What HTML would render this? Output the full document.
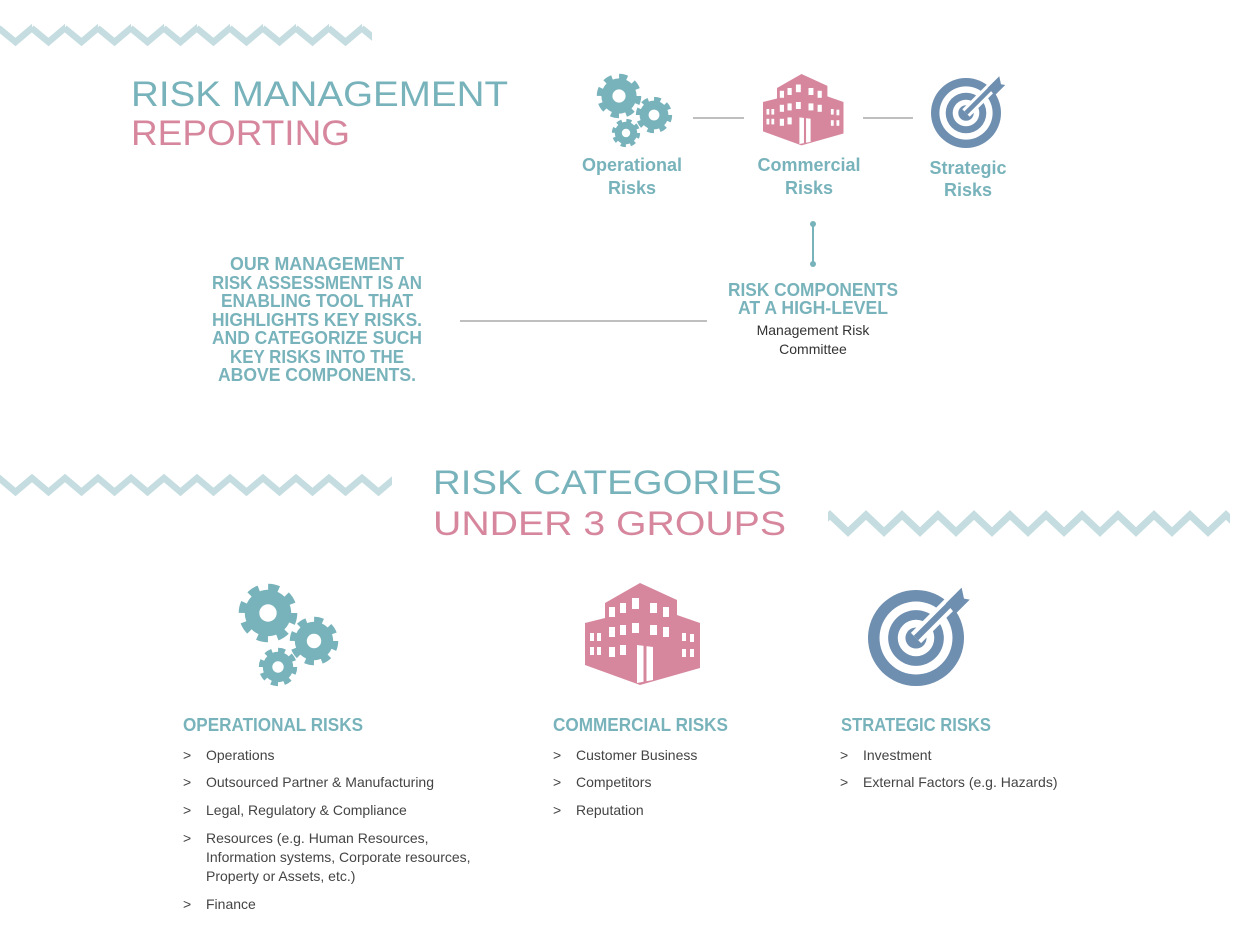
<!DOCTYPE html>
<html><head><meta charset="utf-8"><style>
html,body{margin:0;padding:0;background:#fff;}
svg{display:block;}
.t{font-family:"Liberation Sans",sans-serif;}
</style></head><body>
<svg width="1241" height="928" viewBox="0 0 1241 928" xmlns="http://www.w3.org/2000/svg">
<defs>
<pattern id="zz" x="-1" y="0" width="33" height="928" patternUnits="userSpaceOnUse">
 <polyline points="-0.5,0 16.5,14 33,0 49.5,14" fill="none" stroke="#c5dde0" stroke-width="6.5" transform="translate(0,28)"/>
</pattern>
<pattern id="zz2" x="-1" y="0" width="33" height="928" patternUnits="userSpaceOnUse">
 <polyline points="-16.5,14 0,0 16.5,14 33,0 49.5,14" fill="none" stroke="#c5dde0" stroke-width="6.5" transform="translate(0,478)"/>
</pattern>
<pattern id="zz3" x="830" y="0" width="36" height="928" patternUnits="userSpaceOnUse">
 <polyline points="-18,17 0,0 18,17 36,0 54,17" fill="none" stroke="#c5dde0" stroke-width="7" transform="translate(0,515)"/>
</pattern>
<g id="gear">
 <circle r="0.8" fill="#78b3bb"/>
 <circle r="0.86" fill="none" stroke="#78b3bb" stroke-width="0.3" stroke-dasharray="0.36 0.315"/>
 <circle r="0.3" fill="#fff"/>
</g>
<g id="bld">
 <polygon points="0,40 20,35 20,20 55,0 92,17 92,32 115,40 115,85 55,102 0,82" fill="#d6879e"/>
 <g fill="#fff">
  <rect x="5" y="50" width="4" height="8"/><rect x="12" y="50" width="4" height="8"/>
  <rect x="5" y="64" width="4" height="8"/><rect x="12" y="64" width="4" height="8"/>
  <rect x="24" y="24" width="6" height="10"/><rect x="35" y="20" width="6" height="10"/><rect x="47" y="15" width="7" height="11"/>
  <rect x="65" y="20" width="7" height="10"/><rect x="78" y="24" width="6" height="10"/>
  <rect x="24" y="44" width="6" height="10"/><rect x="35" y="42" width="6" height="10"/><rect x="47" y="40" width="7" height="10"/>
  <rect x="65" y="42" width="7" height="10"/><rect x="78" y="44" width="6" height="10"/>
  <rect x="97" y="50" width="4" height="8"/><rect x="105" y="51" width="4" height="8"/>
  <rect x="24" y="64" width="6" height="10"/><rect x="35" y="62" width="6" height="10"/>
  <rect x="97" y="66" width="4" height="8"/><rect x="105" y="66" width="4" height="8"/>
  <polygon points="52,62 68,64 68,97 52,100"/>
 </g>
 <line x1="60" y1="62" x2="60" y2="99" stroke="#d6879e" stroke-width="3"/>
</g>
<g id="tgt">
 <circle r="1" fill="#6f8fb0"/>
 <circle r="0.76" fill="#fff"/>
 <circle r="0.58" fill="#6f8fb0"/>
 <circle r="0.38" fill="#fff"/>
 <circle r="0.22" fill="#6f8fb0"/>
 <line x1="0" y1="0" x2="0.78" y2="-0.78" stroke="#fff" stroke-width="0.3"/>
 <line x1="0" y1="0" x2="0.85" y2="-0.85" stroke="#6f8fb0" stroke-width="0.13"/>
 <polygon points="0.62,-0.72 0.95,-1.05 1.0,-0.82 1.12,-0.8 0.82,-0.5 0.72,-0.62" fill="#6f8fb0"/>
</g>
</defs>

<rect x="0" y="20" width="372" height="30" fill="url(#zz)"/>
<rect x="0" y="470" width="392" height="30" fill="url(#zz2)"/>
<rect x="828" y="508" width="402" height="32" fill="url(#zz3)"/>

<text class="t" x="131" y="106" font-size="35" fill="#78b3bb" textLength="377" lengthAdjust="spacingAndGlyphs">RISK MANAGEMENT</text>
<text class="t" x="131" y="145" font-size="35" fill="#d6879e" textLength="219" lengthAdjust="spacingAndGlyphs">REPORTING</text>

<!-- top icons -->
<use href="#gear" transform="translate(619,96) scale(22)"/>
<use href="#gear" transform="translate(654,115) scale(18)"/>
<use href="#gear" transform="translate(626,133) scale(14)"/>
<use href="#bld" transform="translate(763,74) scale(0.7)"/>
<use href="#tgt" transform="translate(966,113) scale(35)"/>
<line x1="693" y1="118" x2="744" y2="118" stroke="#aaa" stroke-width="1.5"/>
<line x1="863" y1="118" x2="913" y2="118" stroke="#aaa" stroke-width="1.5"/>

<g class="t" font-weight="bold" font-size="18" fill="#78b3bb" text-anchor="middle">
<text x="632" y="171">Operational</text><text x="632" y="194">Risks</text>
<text x="809" y="171">Commercial</text><text x="809" y="194">Risks</text>
<text x="968" y="174">Strategic</text><text x="968" y="196">Risks</text>
</g>

<line x1="813" y1="224" x2="813" y2="264" stroke="#78b3bb" stroke-width="2"/>
<circle cx="813" cy="224" r="3" fill="#78b3bb"/><circle cx="813" cy="264" r="3" fill="#78b3bb"/>
<g class="t" font-weight="bold" font-size="18" fill="#78b3bb" text-anchor="middle">
<text x="813" y="296" textLength="170" lengthAdjust="spacingAndGlyphs">RISK COMPONENTS</text>
<text x="813" y="314" textLength="150" lengthAdjust="spacingAndGlyphs">AT A HIGH-LEVEL</text>
</g>
<g class="t" font-size="14" fill="#333" text-anchor="middle">
<text x="813" y="335">Management Risk</text><text x="813" y="354">Committee</text>
</g>
<line x1="460" y1="321" x2="707" y2="321" stroke="#aaa" stroke-width="1.5"/>

<g class="t" font-weight="bold" font-size="18" fill="#78b3bb" text-anchor="middle">
<text x="317" y="270" textLength="174" lengthAdjust="spacingAndGlyphs">OUR MANAGEMENT</text>
<text x="317" y="289" textLength="210" lengthAdjust="spacingAndGlyphs">RISK ASSESSMENT IS AN</text>
<text x="317" y="307" textLength="192" lengthAdjust="spacingAndGlyphs">ENABLING TOOL THAT</text>
<text x="317" y="326" textLength="210" lengthAdjust="spacingAndGlyphs">HIGHLIGHTS KEY RISKS.</text>
<text x="317" y="344" textLength="210" lengthAdjust="spacingAndGlyphs">AND CATEGORIZE SUCH</text>
<text x="317" y="363" textLength="174" lengthAdjust="spacingAndGlyphs">KEY RISKS INTO THE</text>
<text x="317" y="381" textLength="198" lengthAdjust="spacingAndGlyphs">ABOVE COMPONENTS.</text>
</g>

<text class="t" x="433" y="494" font-size="34" fill="#78b3bb" textLength="349" lengthAdjust="spacingAndGlyphs">RISK CATEGORIES</text>
<text class="t" x="433" y="535" font-size="34" fill="#d6879e" textLength="353" lengthAdjust="spacingAndGlyphs">UNDER 3 GROUPS</text>

<!-- bottom icons -->
<use href="#gear" transform="translate(268,613) scale(29)"/>
<use href="#gear" transform="translate(314,641) scale(24)"/>
<use href="#gear" transform="translate(278,667) scale(19)"/>
<use href="#bld" transform="translate(585,583)"/>
<use href="#tgt" transform="translate(916,638) scale(48)"/>

<g class="t" font-weight="bold" font-size="18" fill="#78b3bb">
<text x="183" y="731" textLength="180" lengthAdjust="spacingAndGlyphs">OPERATIONAL RISKS</text>
<text x="553" y="731" textLength="175" lengthAdjust="spacingAndGlyphs">COMMERCIAL RISKS</text>
<text x="841" y="731" textLength="150" lengthAdjust="spacingAndGlyphs">STRATEGIC RISKS</text>
</g>
<g class="t" font-size="14" fill="#444">
<text x="183" y="760">&gt;</text><text x="206" y="760">Operations</text>
<text x="183" y="787">&gt;</text><text x="206" y="787">Outsourced Partner &amp; Manufacturing</text>
<text x="183" y="815">&gt;</text><text x="206" y="815">Legal, Regulatory &amp; Compliance</text>
<text x="183" y="843">&gt;</text><text x="206" y="843">Resources (e.g. Human Resources,</text>
<text x="206" y="862">Information systems, Corporate resources,</text>
<text x="206" y="881">Property or Assets, etc.)</text>
<text x="183" y="909">&gt;</text><text x="206" y="909">Finance</text>
<text x="553" y="760">&gt;</text><text x="576" y="760">Customer Business</text>
<text x="553" y="787">&gt;</text><text x="576" y="787">Competitors</text>
<text x="553" y="815">&gt;</text><text x="576" y="815">Reputation</text>
<text x="840" y="760">&gt;</text><text x="863" y="760">Investment</text>
<text x="840" y="787">&gt;</text><text x="863" y="787">External Factors (e.g. Hazards)</text>
</g>
</svg>
</body></html>
